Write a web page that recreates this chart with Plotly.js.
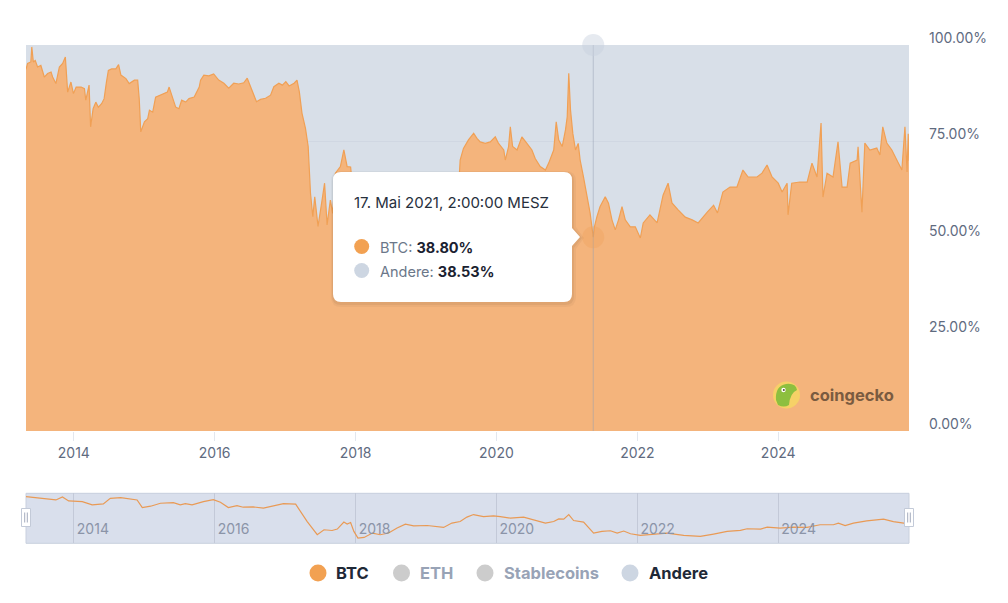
<!DOCTYPE html>
<html>
<head>
<meta charset="utf-8">
<script src="https://cdn.plot.ly/plotly-3.0.1.min.js"></script>
<style>
html,body{margin:0;padding:0;background:#ffffff;}
#chart{width:1008px;height:603px;}
</style>
</head>
<body>
<div id="chart"></div>
<script>
// ---- data ----
// BTC share (BTC / (BTC + Andere), percent) shown in the main chart
const btcDates = [
'2013-04-28','2013-05-06','2013-05-23','2013-05-28','2013-06-05','2013-06-15','2013-06-27','2013-07-14','2013-08-01','2013-08-18',
'2013-09-05','2013-09-13','2013-09-30','2013-10-18','2013-11-04','2013-11-18','2013-11-30','2013-12-17','2013-12-30','2014-01-13',
'2014-02-08','2014-02-25','2014-03-04','2014-03-21','2014-03-29','2014-04-11','2014-04-25','2014-05-08','2014-05-25','2014-06-07',
'2014-06-19','2014-06-29','2014-07-16','2014-08-07','2014-08-21','2014-09-02','2014-09-28','2014-10-15','2014-11-11','2014-11-28',
'2014-12-06','2014-12-14','2015-01-02','2015-01-19','2015-01-28','2015-02-14','2015-03-01','2015-03-27','2015-05-01','2015-05-10',
'2015-05-27','2015-06-13','2015-06-30','2015-07-14','2015-08-04','2015-08-21','2015-09-17','2015-10-13','2015-10-20','2015-11-06',
'2015-12-02','2015-12-27','2016-01-22','2016-02-18','2016-03-14','2016-04-09','2016-05-05','2016-05-31','2016-06-18','2016-07-05',
'2016-07-22','2016-08-05','2016-08-26','2016-09-21','2016-10-17','2016-11-03','2016-11-29','2016-12-17','2017-01-04','2017-01-21',
'2017-02-16','2017-03-03','2017-03-15','2017-03-29','2017-04-16','2017-04-30','2017-05-12','2017-05-24','2017-06-03','2017-06-20',
'2017-07-11','2017-07-24','2017-08-06','2017-08-23','2017-09-04','2017-09-18','2017-10-14','2017-11-01','2017-11-18','2017-12-06',
'2018-01-01','2018-01-26','2018-02-21','2018-03-28','2018-05-09','2018-07-01','2018-08-21','2018-09-26','2018-11-07','2019-01-04',
'2019-03-15','2019-05-20','2019-06-20','2019-06-27','2019-07-14','2019-08-09','2019-09-05','2019-09-22','2019-10-09','2019-11-04',
'2019-11-30','2019-12-26','2020-01-12','2020-02-08','2020-02-16','2020-03-04','2020-03-13','2020-03-25','2020-04-17','2020-05-12',
'2020-06-07','2020-07-03','2020-07-20','2020-08-15','2020-09-11','2020-09-28','2020-10-24','2020-11-06','2020-11-19','2020-12-07',
'2020-12-24','2021-01-02','2021-01-10','2021-01-19','2021-01-31','2021-02-14','2021-02-28','2021-03-10','2021-03-27','2021-04-14',
'2021-05-01','2021-05-17','2021-05-23','2021-06-05','2021-06-21','2021-07-18','2021-08-04','2021-08-22','2021-09-08','2021-09-25',
'2021-10-13','2021-10-30','2021-11-25','2021-12-21','2022-01-16','2022-01-31','2022-03-07','2022-04-13','2022-05-14','2022-06-09',
'2022-06-29','2022-07-31','2022-09-06','2022-10-12','2022-11-12','2022-12-29','2023-01-31','2023-02-20','2023-03-20','2023-04-26',
'2023-06-01','2023-07-02','2023-07-29','2023-09-13','2023-10-09','2023-11-04','2023-11-30','2024-01-01','2024-01-21','2024-02-16',
'2024-02-21','2024-03-11','2024-04-22','2024-05-30','2024-06-24','2024-07-20','2024-08-10','2024-08-20','2024-09-10','2024-10-11',
'2024-11-06','2024-11-27','2024-12-23','2025-01-08','2025-02-13','2025-02-18','2025-03-10','2025-03-25','2025-04-20','2025-05-26',
'2025-06-11','2025-06-26','2025-07-17','2025-08-12','2025-09-12','2025-10-03','2025-10-19','2025-10-30','2025-11-05','2025-11-09'
];
const btcShare = [
93.7,95.2,95.6,99.5,95.6,96.0,94.3,94.7,91.7,92.6,
93.0,91.7,90.0,94.3,95.2,96.9,87.8,90.4,87.4,89.1,
89.1,88.7,85.7,89.6,78.8,83.5,85.2,83.9,84.8,86.1,
90.4,93.4,93.8,93.8,94.9,92.2,91.3,90.0,90.9,90.9,
86.1,77.5,80.1,80.9,83.1,82.6,86.5,87.0,87.8,89.1,
86.5,83.9,83.5,85.7,85.2,86.1,86.5,89.1,90.9,92.2,
92.0,92.5,90.9,90.1,88.8,90.1,89.9,90.2,91.4,89.2,
87.5,85.3,85.9,86.2,87.0,89.2,90.1,89.6,90.5,89.4,
90.1,90.9,87.9,82.3,78.4,73.7,61.6,55.5,60.7,53.0,
59.8,64.2,53.4,59.8,56.4,66.8,68.5,72.8,68.5,68.4,
55.0,46.0,44.0,48.0,51.0,53.0,57.0,61.0,60.0,59.0,
60.0,62.0,64.0,70.2,73.2,75.4,77.1,75.8,74.9,74.5,
74.9,76.2,74.5,72.8,70.2,73.7,78.8,73.7,72.8,76.2,
74.5,72.8,70.6,68.5,67.6,69.4,72.8,80.1,75.4,73.7,
78.0,81.4,92.7,83.2,77.1,72.8,74.5,70.2,65.9,60.7,
56.4,50.2,52.9,55.5,58.1,60.7,59.0,54.7,52.1,54.7,
58.1,54.7,52.9,52.9,50.0,53.9,56.0,53.9,61.1,64.2,
59.1,57.3,55.4,54.7,53.9,56.7,58.5,56.5,61.9,63.2,
63.2,67.6,65.8,65.8,66.8,68.9,65.8,64.2,61.9,64.2,
56.0,64.2,64.5,64.5,69.4,65.8,79.8,60.6,66.8,65.8,
74.9,63.2,63.2,69.4,70.2,73.6,56.7,74.6,72.8,73.3,
71.5,78.8,74.6,72.8,69.7,67.6,78.8,67.1,77.0,70.0
];

// BTC dominance line in the navigator (raw, smoothed)
const navDates = [
'2013-04-28','2013-07-28','2013-09-30','2013-11-03','2013-12-05','2014-02-14','2014-04-06','2014-06-03','2014-07-09','2014-09-01',
'2014-11-25','2014-12-22','2015-02-03','2015-03-26','2015-06-01','2015-07-07','2015-08-02','2015-09-06','2015-11-04','2015-12-25',
'2016-01-31','2016-03-12','2016-04-26','2016-05-28','2016-07-19','2016-09-10','2016-11-20','2016-12-23','2017-02-24','2017-03-20',
'2017-04-25','2017-06-16','2017-07-21','2017-09-01','2017-09-28','2017-11-01','2017-11-18','2017-12-06','2017-12-23','2018-01-13',
'2018-02-14','2018-03-29','2018-05-09','2018-06-21','2018-08-04','2018-09-16','2018-10-29','2019-01-07','2019-04-02','2019-05-15',
'2019-06-27','2019-08-01','2019-09-04','2019-10-26','2019-12-17','2020-01-21','2020-03-13','2020-05-21','2020-07-12','2020-09-11',
'2020-10-24','2020-11-19','2020-12-15','2021-01-10','2021-02-04','2021-03-28','2021-05-19','2021-07-01','2021-08-14','2021-09-18',
'2021-10-22','2021-11-26','2022-01-16','2022-03-26','2022-06-03','2022-08-29','2022-11-23','2023-01-31','2023-04-11','2023-06-19',
'2023-07-24','2023-10-01','2023-11-05','2024-01-11','2024-03-21','2024-05-29','2024-08-05','2024-10-13','2024-11-08','2024-12-13',
'2025-01-25','2025-04-04','2025-06-30','2025-08-20','2025-10-11','2025-11-09'
];
const navBtc = [
94.5,92.1,89.6,94.1,88.1,87.1,82.2,83.7,92.1,93.0,
89.6,78.2,80.3,84.7,85.6,82.2,84.2,82.2,87.1,90.1,
86.2,78.2,81.2,78.8,79.3,77.4,82.2,84.2,83.3,72.3,
57.5,37.9,45.3,44.2,46.3,56.7,53.7,56.1,42.8,33.0,
33.9,40.4,37.9,40.4,47.8,53.7,51.2,51.6,48.7,55.2,
57.5,64.1,67.9,64.9,66.0,64.9,62.6,64.1,60.1,55.2,
57.5,61.5,61.1,67.9,59.0,56.7,40.4,42.8,43.8,40.4,
43.4,39.4,36.9,38.9,40.4,36.9,35.4,38.9,42.8,44.3,
46.8,46.3,49.3,47.8,49.3,48.7,52.7,52.7,55.2,51.6,
55.2,58.6,61.1,57.5,55.2,54.0
];

const yearTicks  = ['2014-01-01','2016-01-01','2018-01-01','2020-01-01','2022-01-01','2024-01-01'];
const yearLabels = ['2014','2016','2018','2020','2022','2024'];
const yTickVals  = [0, 25, 50, 75, 100];
const yTickText  = ['0.00%','25.00%','50.00%','75.00%','100.00%'];

const legendNames   = ['BTC','ETH','Stablecoins','Andere'];
const legendColors  = ['#f2a152','#cccccc','#cccccc','#cdd6e2'];
const legendActive  = [true,false,false,true];

const tooltipDate   = '2021-05-17';
const tooltipLabel  = '17. Mai 2021, 2:00:00 MESZ';
const tooltipBtc    = 38.80;
const tooltipAndere = 38.53;

// ---- geometry helpers (pixel -> paper) ----
const W = 1008, H = 603, ML = 26, MR = 99, MT = 45, MB = 60;
const PW = W - ML - MR, PH = H - MT - MB;
const px = x => (x - ML) / PW;
const py = y => (H - MB - y) / PH;
const P = (x, y) => px(x).toFixed(5) + ',' + py(y).toFixed(5);

function tipPath(x0, y0, x1, y1, r, ax, ay, ah) {
  return 'M' + P(x0 + r, y0) + ' L' + P(x1 - r, y0) + ' Q' + P(x1, y0) + ' ' + P(x1, y0 + r) +
    ' L' + P(x1, ay - ah) + ' L' + P(ax, ay) + ' L' + P(x1, ay + ah) +
    ' L' + P(x1, y1 - r) + ' Q' + P(x1, y1) + ' ' + P(x1 - r, y1) +
    ' L' + P(x0 + r, y1) + ' Q' + P(x0, y1) + ' ' + P(x0, y1 - r) +
    ' L' + P(x0, y0 + r) + ' Q' + P(x0, y0) + ' ' + P(x0 + r, y0) + ' Z';
}
function dot(cx, cy, r, color, layer) {
  return {type:'circle', xref:'paper', yref:'paper', xsizemode:'pixel', ysizemode:'pixel',
    xanchor:px(cx), yanchor:py(cy), x0:-r, x1:r, y0:-r, y1:r,
    fillcolor:color, line:{width:0}, layer:layer || 'above'};
}
function rectPx(x0, y0, x1, y1, fill, lineColor, layer) {
  return {type:'rect', xref:'paper', yref:'paper', x0:px(x0), x1:px(x1), y0:py(y1), y1:py(y0),
    fillcolor:fill, line:{color:lineColor || 'rgba(0,0,0,0)', width: lineColor ? 1 : 0}, layer:layer || 'above'};
}
function linePx(x0, y0, x1, y1, color) {
  return {type:'line', xref:'paper', yref:'paper', x0:px(x0), x1:px(x1), y0:py(y0), y1:py(y1),
    line:{color:color, width:1}, layer:'above'};
}

const FONT = 'Inter, "Noto Sans", sans-serif';
const xRange = [btcDates[0], btcDates[btcDates.length - 1]];
const tipShare = tooltipBtc / (tooltipBtc + tooltipAndere) * 100;

// ---- traces ----
const traces = [
  {type:'scatter', mode:'lines', x:btcDates, y:btcShare, fill:'tozeroy',
   fillcolor:'#f4b47c', line:{color:'#f0a055', width:1.2}, hoverinfo:'skip', xaxis:'x', yaxis:'y'},
  {type:'scatter', mode:'lines', x:[tooltipDate, tooltipDate], y:[0, 100],
   line:{color:'rgba(150,160,180,0.5)', width:1}, hoverinfo:'skip', xaxis:'x', yaxis:'y'},
  {type:'scatter', mode:'markers', x:[tooltipDate, tooltipDate], y:[tipShare, 100],
   marker:{size:22, color:['rgba(240,160,85,0.30)','rgba(200,208,222,0.45)'], line:{width:0}},
   cliponaxis:false, hoverinfo:'skip', xaxis:'x', yaxis:'y'},
  {type:'scatter', mode:'lines', x:navDates, y:navBtc,
   line:{color:'#e99a55', width:1.2}, hoverinfo:'skip', xaxis:'x2', yaxis:'y2'}
];

// ---- shapes ----
const shapes = [];
shapes.push(rectPx(26, 493.3, 909, 543.3, '#d9dfec', '#c9d0de', 'below'));
shapes.push({type:'path', xref:'paper', yref:'paper', path:tipPath(331, 171, 576, 307, 10, 584, 238, 11),
  fillcolor:'rgba(0,0,0,0.035)', line:{width:0}, layer:'above'});
shapes.push({type:'path', xref:'paper', yref:'paper', path:tipPath(332, 172, 574, 305, 9, 582, 238, 10),
  fillcolor:'rgba(0,0,0,0.05)', line:{width:0}, layer:'above'});
shapes.push({type:'path', xref:'paper', yref:'paper', path:tipPath(333, 172, 572, 302, 8, 580, 237, 9),
  fillcolor:'#ffffff', line:{width:0}, layer:'above'});
shapes.push(dot(361.7, 246.5, 7.5, legendColors[0]));
shapes.push(dot(361.7, 270.5, 7.5, legendColors[3]));
const legendDotX  = [318, 401.5, 485, 630];
const legendTextX = [334, 418, 502, 647];
legendNames.forEach((n, i) => shapes.push(dot(legendDotX[i], 573, 8.5, legendColors[i])));
[26, 909].forEach(hx => {
  shapes.push(rectPx(hx - 4.5, 508.5, hx + 4.5, 526.5, '#ffffff', '#c3cad8'));
  shapes.push(linePx(hx - 1.3, 512.5, hx - 1.3, 522.5, '#a4acbd'));
  shapes.push(linePx(hx + 1.3, 512.5, hx + 1.3, 522.5, '#a4acbd'));
});
shapes.push(dot(786.5, 395, 13.5, '#f6d167'));
shapes.push({type:'path', xref:'paper', yref:'paper',
  path:'M' + P(776, 400) + ' Q' + P(775, 386) + ' ' + P(786, 384) + ' Q' + P(796, 383) + ' ' + P(797, 390) +
       ' Q' + P(790, 393) + ' ' + P(789, 405) + ' Q' + P(784, 408) + ' ' + P(778, 405) + ' Z',
  fillcolor:'#8dbf3f', line:{width:0}, layer:'above'});
shapes.push(dot(783.5, 390, 2.2, '#ffffff'));
shapes.push(dot(783.8, 390, 1.0, '#5b4a3a'));

// ---- annotations ----
const ann = [];
ann.push({xref:'paper', yref:'paper', x:px(352), y:py(202), xanchor:'left', yanchor:'middle', showarrow:false,
  text:tooltipLabel, font:{family:FONT, size:15, color:'#27303d'}});
ann.push({xref:'paper', yref:'paper', x:px(378), y:py(247), xanchor:'left', yanchor:'middle', showarrow:false,
  text:'<span style="color:#6b7789">' + legendNames[0] + ': </span><b>' + tooltipBtc.toFixed(2) + '%</b>',
  font:{family:FONT, size:14.5, color:'#1a2130'}});
ann.push({xref:'paper', yref:'paper', x:px(378), y:py(271), xanchor:'left', yanchor:'middle', showarrow:false,
  text:'<span style="color:#6b7789">' + legendNames[3] + ': </span><b>' + tooltipAndere.toFixed(2) + '%</b>',
  font:{family:FONT, size:14.5, color:'#1a2130'}});
legendNames.forEach((n, i) => ann.push({xref:'paper', yref:'paper', x:px(legendTextX[i]), y:py(573),
  xanchor:'left', yanchor:'middle', showarrow:false, text:n,
  font:{family:FONT, size:16.5, weight:700, color: legendActive[i] ? '#1f2937' : '#98a3b6'}}));
ann.push({xref:'paper', yref:'paper', x:px(808), y:py(395), xanchor:'left', yanchor:'middle', showarrow:false,
  text:'coingecko', font:{family:FONT, size:16.5, weight:700, color:'#7a5b40'}});

const layout = {
  width:W, height:H,
  margin:{l:ML, r:MR, t:MT, b:MB, pad:0},
  paper_bgcolor:'#ffffff', plot_bgcolor:'#d8dfe8',
  showlegend:false, hovermode:false, dragmode:false,
  font:{family:FONT, size:14, color:'#5f6b7f'},
  xaxis:{domain:[0,1], anchor:'y', type:'date', range:xRange, fixedrange:true,
    tickvals:yearTicks, ticktext:yearLabels, ticks:'outside', ticklen:9, tickcolor:'#e3e7ee', tickwidth:1,
    showgrid:false, zeroline:false, showline:false,
    tickfont:{family:FONT, size:14, color:'#5f6b7f'}},
  yaxis:{domain:[py(431), 1], anchor:'x', range:[0,100], fixedrange:true, side:'right',
    tickvals:yTickVals, ticktext:yTickText, ticks:'', showgrid:true, gridcolor:'#d0d7e2', gridwidth:1,
    zeroline:false, showline:false, ticklabelstandoff:19, ticklabelshift:-7,
    tickfont:{family:FONT, size:14, color:'#5f6b7f'}},
  xaxis2:{domain:[0,1], anchor:'y2', type:'date', range:xRange, fixedrange:true,
    tickvals:yearTicks, ticktext:yearLabels, ticks:'', ticklabelposition:'inside right', ticklabelshift:3,
    showgrid:true, gridcolor:'#c3c9d8', gridwidth:1, zeroline:false, showline:false,
    tickfont:{family:FONT, size:14, color:'#8b94a8'}},
  yaxis2:{domain:[0, py(493.3)], anchor:'x2', range:[25.6, 99.5], fixedrange:true,
    showgrid:false, showticklabels:false, zeroline:false, ticks:''},
  shapes:shapes,
  annotations:ann
};

Plotly.newPlot('chart', traces, layout, {displayModeBar:false, staticPlot:true});
</script>
</body>
</html>
